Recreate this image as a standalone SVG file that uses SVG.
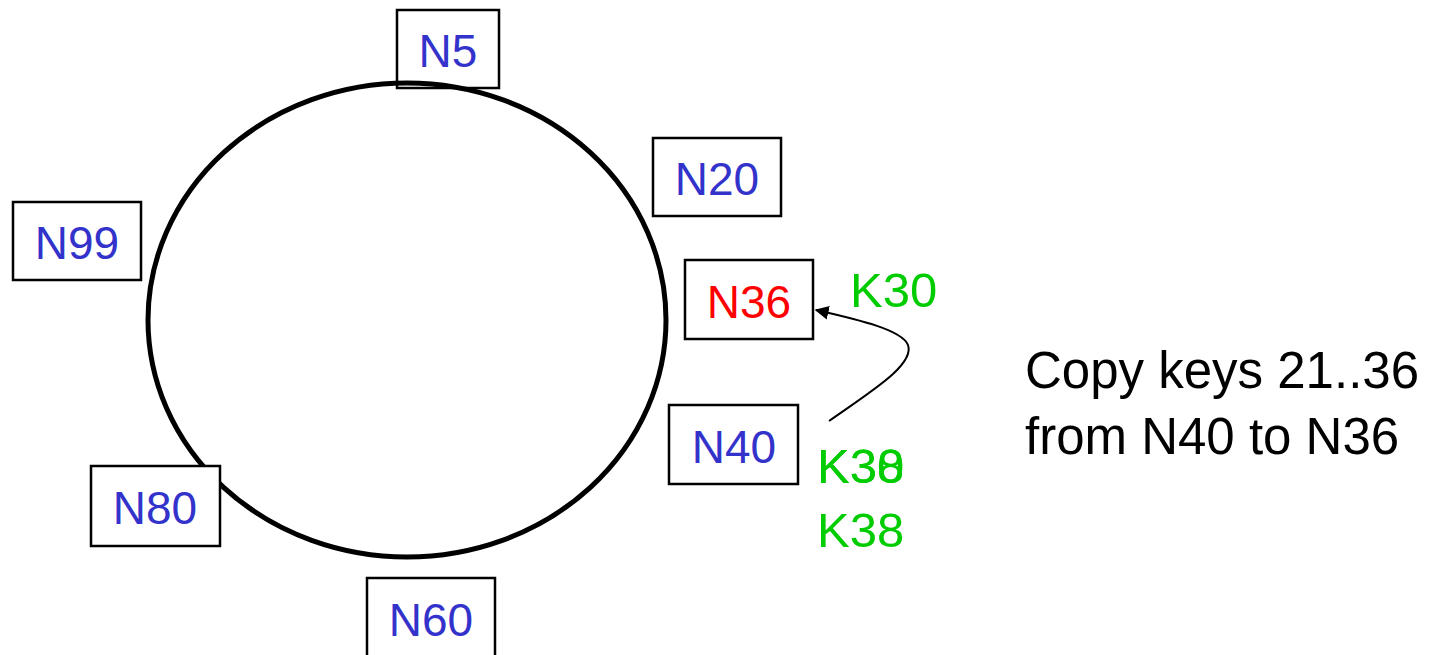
<svg xmlns="http://www.w3.org/2000/svg" width="1433" height="655" viewBox="0 0 1433 655">
<style>
.box{fill:#fff;stroke:#000;stroke-width:2.5}
.lbl{font-family:"Liberation Sans",Arial,sans-serif;font-size:46px;text-anchor:middle;fill:#3333CC}
.key{font-family:"Liberation Sans",Arial,sans-serif;font-size:49px;fill:#00CC00}
.note{font-family:"Liberation Sans",Arial,sans-serif;font-size:51px;fill:#000}
</style>
<defs>
<marker id="ah" viewBox="0 0 10 10" refX="9" refY="5" markerWidth="14" markerHeight="14" markerUnits="userSpaceOnUse" orient="auto">
<path d="M0,0 L10,5 L0,10 z" fill="#000"/>
</marker>
</defs>
<rect width="1433" height="655" fill="#fff"/>
<g id="N5"><rect class="box" x="397" y="10" width="102" height="78"/><text class="lbl" x="448" y="67">N5</text></g>
<g id="ring"><ellipse cx="407" cy="320" rx="259" ry="237" fill="none" stroke="#000" stroke-width="5"/></g>
<g id="N20"><rect class="box" x="653" y="138" width="128" height="78"/><text class="lbl" x="717" y="195">N20</text></g>
<g id="N99"><rect class="box" x="13" y="202" width="128" height="78"/><text class="lbl" x="77" y="259">N99</text></g>
<g id="N36"><rect class="box" x="685" y="260" width="128" height="79"/><text class="lbl" x="749" y="318" fill="#FF0000" style="fill:#FF0000">N36</text></g>
<g id="N40"><rect class="box" x="669" y="405" width="129" height="79"/><text class="lbl" x="734" y="463">N40</text></g>
<g id="N80"><rect class="box" x="91" y="466" width="129" height="80"/><text class="lbl" x="155" y="524">N80</text></g>
<g id="N60"><rect class="box" x="367" y="578" width="128" height="90"/><text class="lbl" x="431" y="636">N60</text></g>
<g id="connectors">
<path d="M829,421 C870,392 915,365 908,345 C902,330 860,320 816,310" fill="none" stroke="#000" stroke-width="2" marker-end="url(#ah)"/>
</g>
<g id="keys">
<text class="key" x="850" y="307">K30</text>
<text class="key" x="817" y="483">K30</text>
<text class="key" x="817" y="483">K38</text>
<text class="key" x="817" y="547">K38</text>
</g>
<g id="note">
<text class="note" x="1025" y="388">Copy keys 21..36</text>
<text class="note" x="1025" y="454">from N40 to N36</text>
</g>
</svg>
